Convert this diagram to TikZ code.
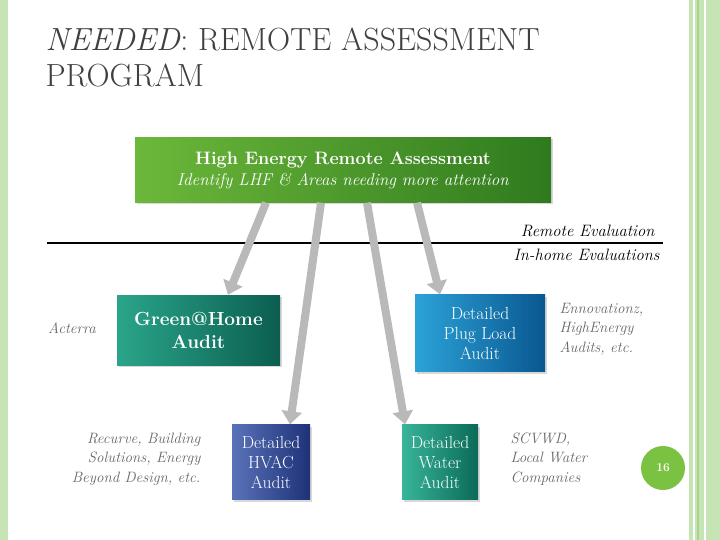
\documentclass[tikz,border=0pt]{standalone}
\usetikzlibrary{arrows.meta,shadows}
\definecolor{bord}{HTML}{C6E4B4}
\definecolor{bordd}{HTML}{A8D490}
\definecolor{g1}{HTML}{6CB83A}
\definecolor{g2}{HTML}{2F7A1E}
\definecolor{t1}{HTML}{2AA58A}
\definecolor{t2}{HTML}{0B5E50}
\definecolor{b1}{HTML}{2BA3D8}
\definecolor{b2}{HTML}{0A5790}
\definecolor{h1}{HTML}{5A72B8}
\definecolor{h2}{HTML}{1E3278}
\definecolor{w1}{HTML}{38B59A}
\definecolor{w2}{HTML}{0A6A58}
\definecolor{pg}{HTML}{7CC242}
\begin{document}
\begin{tikzpicture}[x=1pt,y=-1pt,
 box/.style={draw=none,inner sep=0pt,align=center,text=white,font=\fontsize{17.5}{20}\selectfont,drop shadow={opacity=0.3,shadow xshift=2pt,shadow yshift=-2pt}},
 note/.style={align=left,text=gray!80!black,font=\itshape\fontsize{15}{19.5}\selectfont},
 arr/.style={draw=gray!55,line width=8pt,-{Triangle[length=13pt,width=20pt]}}]
\useasboundingbox (0,0) rectangle (720,540);
\fill[white] (0,0) rectangle (720,540);
% borders
\fill[bord] (0,0) rectangle (8,540);
\fill[bord] (689,0) rectangle (720,540);
\fill[white] (693,0) rectangle (695,540);
\fill[bordd] (697,0) rectangle (699,540);
\fill[white] (704,0) rectangle (706,540);
% title
\node[anchor=north west,align=left,text=black!75,font=\fontsize{32}{36}\selectfont] (title) at (42,24)
 {\textit{NEEDED}: REMOTE ASSESSMENT\\PROGRAM};
% top box
\node[box,left color=g1,right color=g2,minimum width=416,minimum height=65] (top) at (343,170)
 {\textbf{\fontsize{18}{21}\selectfont High Energy Remote Assessment}\\[1pt] \textit{\fontsize{17}{20}\selectfont Identify LHF \& Areas needing more attention}};
% line
\coordinate (la) at (47,243); \coordinate (lb) at (663,243);
\draw[line width=1.6pt] (la) -- (lb);
\node[anchor=south east,font=\itshape\fontsize{16.5}{19}\selectfont] (re) at (658,240) {Remote Evaluation};
\node[anchor=north east,font=\itshape\fontsize{16.5}{19}\selectfont] (ie) at (663,246) {In-home Evaluations};
% boxes
\node[box,left color=t1,right color=t2,minimum width=163,minimum height=70,font=\fontsize{19}{23}\selectfont] (gh) at (198.5,330) {\textbf{Green@Home}\\\textbf{Audit}};
\node[box,left color=b1,right color=b2,minimum width=130,minimum height=77] (pl) at (480,333) {Detailed\\Plug Load\\Audit};
\node[box,left color=h1,right color=h2,minimum width=78,minimum height=75] (hv) at (271,462) {Detailed\\HVAC\\Audit};
\node[box,left color=w1,right color=w2,minimum width=76,minimum height=75] (wa) at (440,462) {Detailed\\Water\\Audit};
% notes
\node[note] (ac) at (72,328) {Acterra};
\node[note,anchor=west] (en) at (556,329) {Ennovationz,\\HighEnergy\\Audits, etc.};
\node[note,anchor=east,align=right] (rc) at (204,459) {Recurve, Building\\Solutions, Energy\\Beyond Design, etc.};
\node[note,anchor=west] (sc) at (507,459) {SCVWD,\\Local Water\\Companies};
% arrows
\draw[arr] ([xshift=-77]top.south) -- ([xshift=29.5]gh.north);
\draw[arr] ([xshift=-22]top.south) -- ([xshift=19]hv.north);
\draw[arr] ([xshift=24]top.south) -- ([xshift=-35]wa.north);
\draw[arr] ([xshift=74]top.south) -- ([xshift=-40]pl.north);
% page number
\node[circle,fill=pg,minimum size=44,text=white,font=\bfseries\large] (pn) at (663,468) {16};
\end{tikzpicture}
\end{document}
